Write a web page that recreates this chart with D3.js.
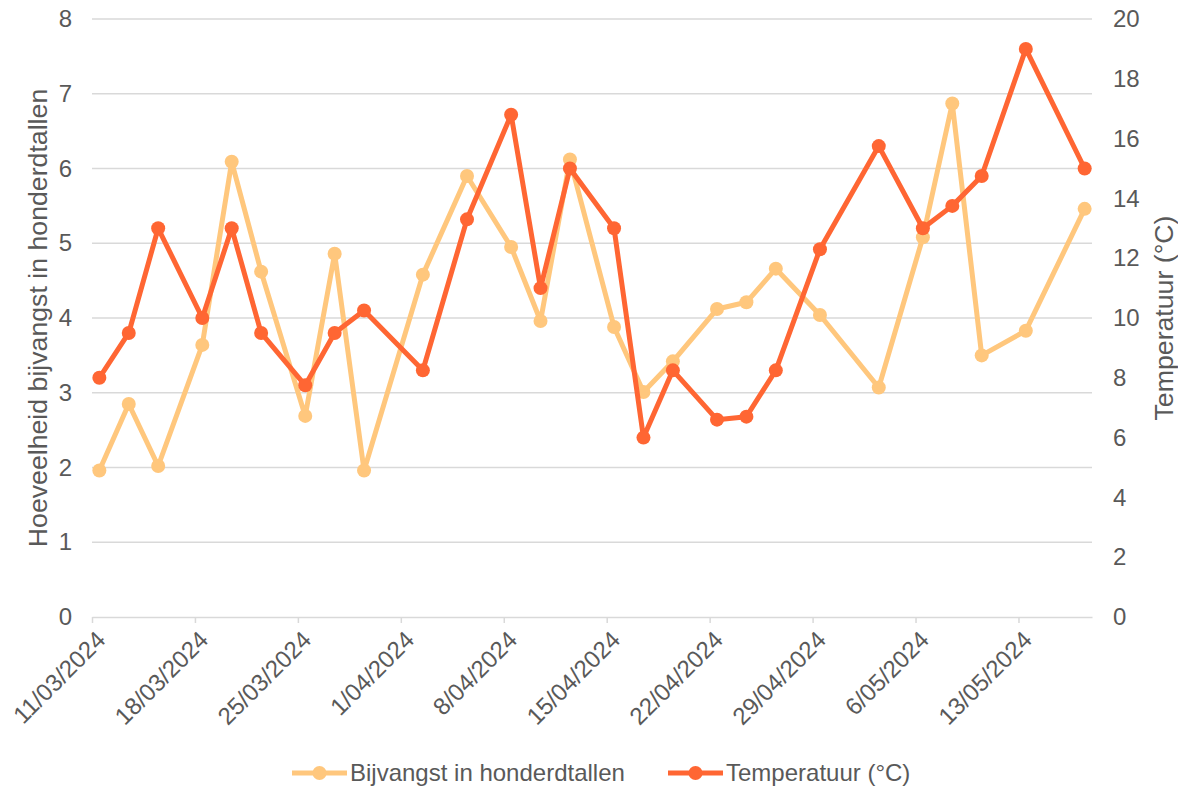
<!DOCTYPE html>
<html>
<head>
<meta charset="utf-8">
<script src="https://cdn.jsdelivr.net/npm/d3@7"></script>
<style>
  body { margin: 0; background: #fff; }
  text { font-family: "Liberation Sans", Arial, sans-serif; fill: #595959; }
</style>
</head>
<body>
<script>
// sample dates (d/m/yyyy)
var dates = ["11/03/2024", "13/03/2024", "15/03/2024", "18/03/2024", "20/03/2024", "22/03/2024",
             "25/03/2024", "27/03/2024", "29/03/2024", "2/04/2024", "5/04/2024", "8/04/2024",
             "10/04/2024", "12/04/2024", "15/04/2024", "17/04/2024", "19/04/2024", "22/04/2024",
             "24/04/2024", "26/04/2024", "29/04/2024", "3/05/2024", "6/05/2024", "8/05/2024",
             "10/05/2024", "13/05/2024", "17/05/2024"];

// bycatch in hundreds (left axis)
var bijvangst = [1.96, 2.85, 2.02, 3.64, 6.09, 4.62, 2.69, 4.86, 1.96, 4.58, 5.90, 4.95, 3.96, 6.12,
                 3.88, 3.01, 3.42, 4.12, 4.21, 4.66, 4.04, 3.07, 5.08, 6.87, 3.50, 3.83, 5.46];

// temperature in °C (right axis)
var temperatuur = [8.0, 9.5, 13.0, 10.0, 13.0, 9.5, 7.75, 9.5, 10.25, 8.25, 13.3, 16.8, 11.0, 15.0,
                   13.0, 6.0, 8.25, 6.6, 6.7, 8.25, 12.3, 15.75, 13.0, 13.75, 14.75, 19.0, 15.0];

var leftTicks = [0, 1, 2, 3, 4, 5, 6, 7, 8];
var rightTicks = [0, 2, 4, 6, 8, 10, 12, 14, 16, 18, 20];

var seriesNames = ["Bijvangst in honderdtallen", "Temperatuur (°C)"];
var colors = ["#FFC77D", "#FF6633"];

var w = 1178, h = 789;
var margin = { left: 92, right: 86, top: 19, bottom: 172 };

var parseDate = d3.timeParse("%d/%m/%Y");
var fmt = d3.timeFormat("%-d/%m/%Y");

var data = dates.map(function (d, i) {
    // Excel date axis puts each point in the middle of its day
    return { date: d3.timeHour.offset(parseDate(d), 12), b: bijvangst[i], t: temperatuur[i] };
});

var xScale = d3.scaleTime()
    .domain([parseDate("11/03/2024"), parseDate("18/05/2024")])
    .range([margin.left, w - margin.right]);

var yLeft = d3.scaleLinear().domain([0, 8]).range([h - margin.bottom, margin.top]);
var yRight = d3.scaleLinear().domain([0, 20]).range([h - margin.bottom, margin.top]);

var svg = d3.select("body").append("svg")
    .attr("width", w)
    .attr("height", h);

// gridlines
svg.append("g")
    .selectAll("line")
    .data(leftTicks.slice(1))
    .enter()
    .append("line")
    .attr("x1", margin.left)
    .attr("x2", w - margin.right)
    .attr("y1", function (d) { return yLeft(d); })
    .attr("y2", function (d) { return yLeft(d); })
    .attr("stroke", "#d9d9d9")
    .attr("stroke-width", 1.5);

// x axis
var xAxis = d3.axisBottom(xScale)
    .ticks(d3.timeMonday.every(1))
    .tickFormat(fmt)
    .tickSize(6)
    .tickSizeOuter(0);

var gx = svg.append("g")
    .attr("transform", "translate(0," + yLeft(0) + ")")
    .call(xAxis);
gx.select(".domain").attr("stroke", "#d9d9d9").attr("stroke-width", 1.5);
gx.selectAll(".tick line").attr("stroke", "#d9d9d9").attr("stroke-width", 1.5);
gx.selectAll(".tick text")
    .attr("font-size", 24)
    .attr("fill", "#595959")
    .attr("text-anchor", "end")
    .attr("dy", 0)
    .attr("transform", "translate(8,18) rotate(-45)");

// left axis
var gl = svg.append("g")
    .attr("transform", "translate(" + margin.left + ",0)")
    .call(d3.axisLeft(yLeft).tickValues(leftTicks).tickSize(0).tickPadding(20));
gl.select(".domain").remove();
gl.selectAll(".tick text").attr("font-size", 24).attr("fill", "#595959");

// right axis
var gr = svg.append("g")
    .attr("transform", "translate(" + (w - margin.right) + ",0)")
    .call(d3.axisRight(yRight).tickValues(rightTicks).tickSize(0).tickPadding(21));
gr.select(".domain").remove();
gr.selectAll(".tick text").attr("font-size", 24).attr("fill", "#595959");

// axis titles
svg.append("text")
    .attr("transform", "translate(47," + ((margin.top + h - margin.bottom) / 2) + ") rotate(-90)")
    .attr("text-anchor", "middle")
    .attr("font-size", 26.7)
    .text("Hoeveelheid bijvangst in honderdtallen");

svg.append("text")
    .attr("transform", "translate(1173," + ((margin.top + h - margin.bottom) / 2) + ") rotate(-90)")
    .attr("text-anchor", "middle")
    .attr("font-size", 26.7)
    .text("Temperatuur (°C)");

// lines
var lineB = d3.line()
    .x(function (d) { return xScale(d.date); })
    .y(function (d) { return yLeft(d.b); });
var lineT = d3.line()
    .x(function (d) { return xScale(d.date); })
    .y(function (d) { return yRight(d.t); });

svg.append("path")
    .datum(data)
    .attr("d", lineB)
    .attr("fill", "none")
    .attr("stroke", colors[0])
    .attr("stroke-width", 5)
    .attr("stroke-linejoin", "round");

svg.append("g")
    .selectAll("circle")
    .data(data)
    .enter()
    .append("circle")
    .attr("cx", function (d) { return xScale(d.date); })
    .attr("cy", function (d) { return yLeft(d.b); })
    .attr("r", 7)
    .attr("fill", colors[0]);

svg.append("path")
    .datum(data)
    .attr("d", lineT)
    .attr("fill", "none")
    .attr("stroke", colors[1])
    .attr("stroke-width", 5)
    .attr("stroke-linejoin", "round");

svg.append("g")
    .selectAll("circle")
    .data(data)
    .enter()
    .append("circle")
    .attr("cx", function (d) { return xScale(d.date); })
    .attr("cy", function (d) { return yRight(d.t); })
    .attr("r", 7)
    .attr("fill", colors[1]);

// legend
var legendX = [292, 668];
var legend = svg.append("g")
    .selectAll("g")
    .data(seriesNames)
    .enter()
    .append("g")
    .attr("transform", function (d, i) { return "translate(" + legendX[i] + ",773)"; });

legend.append("line")
    .attr("x1", 0).attr("x2", 55)
    .attr("stroke", function (d, i) { return colors[i]; })
    .attr("stroke-width", 5);
legend.append("circle")
    .attr("cx", 27.5)
    .attr("r", 7)
    .attr("fill", function (d, i) { return colors[i]; });
legend.append("text")
    .attr("x", 58)
    .attr("dy", "0.35em")
    .attr("font-size", 24)
    .text(function (d) { return d; });
</script>
</body>
</html>
